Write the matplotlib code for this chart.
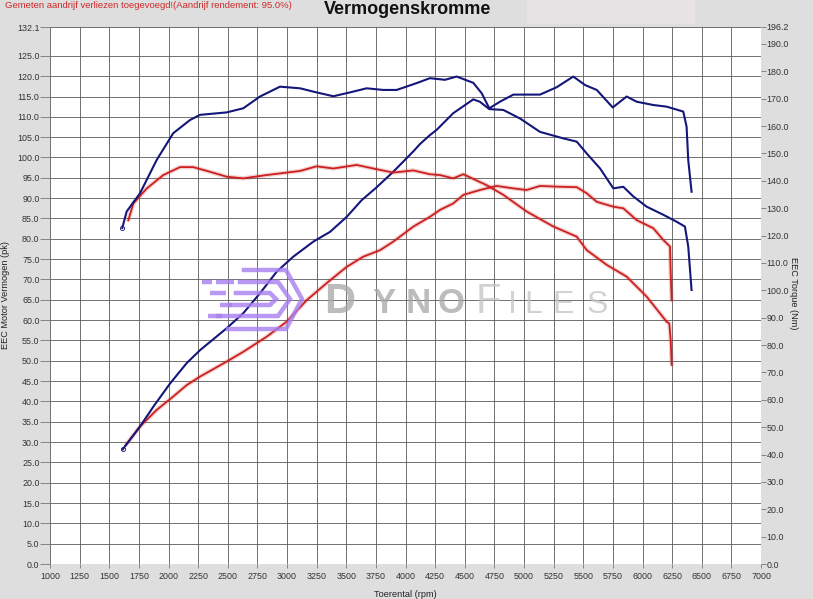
# -*- coding: utf-8 -*-
import numpy as np
import matplotlib
matplotlib.use('Agg')
import matplotlib.pyplot as plt
from matplotlib.patches import Rectangle

plt.rcParams['font.family'] = ['Liberation Sans', 'DejaVu Sans']

# --- Data ---
# blauw: eerste run, rood: tweede run
rpm_kr_blue = [1610, 1647, 1759, 1900, 2040, 2181, 2266, 2491, 2631, 2772, 2941, 3110, 3250, 3391,
               3531, 3672, 3812, 3925, 4094, 4206, 4333, 4432, 4572, 4643, 4707, 4797, 4910, 5135,
               5276, 5416, 5515, 5614, 5749, 5866, 5951, 6091, 6204, 6344, 6372, 6386, 6414]
torque_blue = [122.8, 128.8, 135.4, 147.6, 157.4, 162.2, 164.1, 165.0, 166.5, 170.8, 174.4, 173.8,
               172.3, 170.9, 172.3, 173.8, 173.2, 173.2, 175.7, 177.5, 176.9, 178.1, 175.8, 172.0,
               166.5, 168.9, 171.5, 171.5, 174.2, 178.1, 175.0, 173.2, 166.8, 170.8, 168.9, 167.7,
               167.1, 165.3, 159.8, 147.6, 136.0]

rpm_pk_blue = [1613, 1759, 1872, 2013, 2153, 2266, 2491, 2631, 2772, 2913, 3053, 3222, 3363, 3504,
               3630, 3750, 3897, 4066, 4122, 4206, 4263, 4403, 4572, 4628, 4707, 4825, 4966, 5135,
               5332, 5445, 5529, 5642, 5754, 5838, 5923, 6035, 6176, 6288, 6358, 6386, 6414]
power_blue = [28.2, 33.8, 38.7, 44.4, 49.4, 52.6, 58.0, 61.7, 66.6, 71.9, 75.6, 79.3, 81.7, 85.4,
              89.5, 92.5, 96.5, 101.5, 103.3, 105.5, 106.8, 110.9, 114.3, 113.7, 111.9, 111.7,
              109.6, 106.3, 104.7, 103.9, 101.0, 97.3, 92.4, 92.8, 90.4, 87.9, 85.9, 84.2, 83.0,
              78.1, 67.4]

rpm_kr_red = [1661, 1703, 1816, 1956, 2097, 2209, 2350, 2491, 2631, 2828, 2997, 3110, 3250, 3391,
              3588, 3728, 3897, 4066, 4206, 4291, 4403, 4488, 4685, 4825, 5022, 5248, 5445, 5529,
              5698, 5866, 6035, 6204, 6226, 6238, 6246]
torque_red = [125.6, 131.7, 137.2, 142.1, 145.0, 145.0, 143.3, 141.5, 140.9, 142.1, 143.0, 143.6,
              145.3, 144.5, 145.8, 144.5, 143.0, 143.8, 142.4, 142.1, 140.9, 142.4, 138.4, 134.9,
              128.8, 123.3, 119.6, 114.7, 109.3, 105.0, 97.7, 88.5, 87.9, 81.8, 72.8]

rpm_pk_red = [1641, 1759, 1900, 2040, 2153, 2266, 2491, 2631, 2828, 2997, 3166, 3335, 3504, 3644,
              3785, 3897, 4066, 4206, 4291, 4403, 4488, 4628, 4769, 4910, 5022, 5135, 5304, 5445,
              5529, 5614, 5754, 5838, 5951, 6091, 6176, 6218, 6232, 6238, 6246]
power_red = [29.3, 33.8, 37.9, 41.2, 44.0, 46.1, 49.8, 52.2, 55.9, 59.6, 64.9, 69.1, 73.1, 75.6,
             77.2, 79.3, 83.0, 85.4, 87.1, 88.7, 90.8, 92.0, 93.0, 92.4, 92.0, 93.0, 92.8, 92.7,
             91.2, 89.1, 87.9, 87.5, 84.6, 82.6, 79.7, 78.5, 78.1, 71.5, 64.9]

x_ticks = list(range(1000, 7001, 250))
pk_ticks = [i * 5.0 for i in range(26)] + [132.1]
nm_ticks = [i * 10.0 for i in range(20)] + [196.2]

BLUE = '#14167a'
RED = '#cc2020'
BG = '#dedede'
W, H = 813, 599

fig = plt.figure(figsize=(W / 100, H / 100), dpi=100, facecolor=BG)

# lichter vakje rechtsboven
fig.patches.append(Rectangle((527 / W, 1 - 24 / H), 168 / W, 24 / H, transform=fig.transFigure,
                             facecolor='#e8e4e6', edgecolor='none', zorder=0))

ax = fig.add_axes([50 / W, 1 - 564 / H, 711 / W, 537 / H])
ax.set_facecolor('white')
ax.set_xlim(1000, 7000)
ax.set_ylim(0, 132.1)
ax.set_xticks(x_ticks)
ax.set_yticks(pk_ticks)
ax.set_yticklabels(['%.1f' % v for v in pk_ticks])
ax.grid(True, color='#5a5a5a', linewidth=0.6)
ax.set_axisbelow(True)
for s in ax.spines.values():
    s.set_visible(False)
ax.tick_params(axis='y', length=7, width=0.6, color='#777777', pad=0.5, labelsize=6.4, labelcolor='#333333')
ax.tick_params(axis='x', length=3, width=0.6, color='#777777', pad=3, labelsize=6.4, labelcolor='#333333')

ax2 = ax.twinx()
ax2.set_ylim(0, 196.2)
ax2.set_yticks(nm_ticks)
ax2.set_yticklabels(['%.1f' % v for v in nm_ticks])
for s in ax2.spines.values():
    s.set_visible(False)
ax2.tick_params(axis='y', length=3.5, width=0.6, color='#777777', pad=0.5, labelsize=6.4, labelcolor='#333333')

# rode curves met lichte gloed
for a, xs, ys in [(ax2, rpm_kr_red, torque_red), (ax, rpm_pk_red, power_red)]:
    a.plot(xs, ys, color=RED, linewidth=3.2, alpha=0.2, solid_capstyle='round')
    a.plot(xs, ys, color=RED, linewidth=1.3)

ax2.plot(rpm_kr_blue, torque_blue, color=BLUE, linewidth=1.5, marker='o', markevery=[0],
         markersize=3, markerfacecolor='none', markeredgewidth=0.6)
ax.plot(rpm_pk_blue, power_blue, color=BLUE, linewidth=1.5, marker='o', markevery=[0],
        markersize=3, markerfacecolor='none', markeredgewidth=0.6)

ax.set_xlabel('Toerental (rpm)', fontsize=6.6, color='#222222')
ax.xaxis.set_label_coords(0.5, -0.048)
ax.set_ylabel('EEC Motor Vermogen (pk)', fontsize=6.6, color='#222222')
ax.yaxis.set_label_coords(-0.056, 0.5)
ax2.set_ylabel('EEC Torque (Nm)', fontsize=6.6, color='#222222', rotation=270)
ax2.yaxis.set_label_coords(1.052, 0.505)

fig.text(408 / W, 1 - 10 / H, 'Vermogenskromme', ha='center', va='center', fontsize=13,
         fontweight='bold', color='#111111')
fig.text(5 / W, 1 - 6 / H, 'Gemeten aandrijf verliezen toegevoegd!(Aandrijf rendement: 95.0%)',
         ha='left', va='center', fontsize=6.8, color='#d02828')

# DynoFiles watermerk (letter, midden-x in px, letterhoogte in pt)
letters = [('D', 340, 31, 'bold', '#a6a6a6'), ('Y', 384, 25, 'bold', '#a6a6a6'),
           ('N', 418, 25, 'bold', '#a6a6a6'), ('O', 451, 25, 'bold', '#a6a6a6'),
           ('F', 488, 30, 'normal', '#c4c4c4'), ('I', 512, 23, 'normal', '#c4c4c4'),
           ('L', 533, 23, 'normal', '#c4c4c4'), ('E', 563, 23, 'normal', '#c4c4c4'),
           ('S', 597, 23, 'normal', '#c4c4c4')]
for ch, xc, size, wt, col in letters:
    fig.text(xc / W, 1 - 313 / H, ch, ha='center', va='baseline', fontsize=size,
             fontweight=wt, color=col, alpha=0.75, zorder=10)

logo = fig.add_axes([200 / W, 1 - 332 / H, 104 / W, 66 / H], zorder=10)
logo.set_xlim(0, 104)
logo.set_ylim(0, 66)
logo.axis('off')
PURPLE = '#a77ff0'
shapes = [
    ([44, 86, 102, 86, 28], [62, 62, 33, 3, 3]),
    ([40, 78, 90, 78, 18], [50, 50, 33, 16, 16]),
    ([36, 70, 76, 70, 30], [39, 39, 33, 27, 27]),
]
for xs, ys in shapes:
    logo.plot(xs, ys, color=PURPLE, linewidth=3.2, alpha=0.8, solid_joinstyle='miter')
for x0, x1, y in [(2, 12, 50), (16, 34, 50), (10, 26, 39), (20, 32, 27), (8, 22, 16)]:
    logo.plot([x0, x1], [y, y], color=PURPLE, linewidth=3.2, alpha=0.8, solid_capstyle='butt')

fig.savefig('out.png', dpi=100, facecolor=BG)
